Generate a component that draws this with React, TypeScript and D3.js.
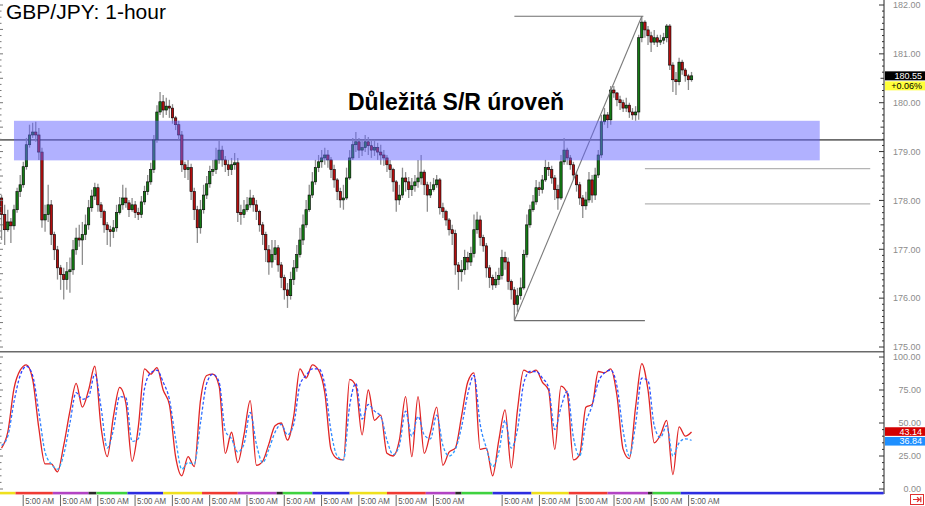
import React from "react";
import * as d3 from "d3";

const W = 925;
const H = 506;

// ---------- price data (2-hour candles, open = previous close) ----------
const firstOpen = 178.05;
const closes = [
  177.71,177.40,177.56,177.48,177.81,178.18,178.32,178.69,179.14,179.34,
  179.40,179.34,178.99,177.60,177.71,177.91,177.30,176.99,176.62,176.48,
  176.38,176.54,176.58,176.99,177.23,177.19,177.30,177.50,177.85,178.09,
  178.26,177.91,177.77,177.50,177.40,177.36,177.44,177.75,177.91,178.05,
  177.95,177.81,177.91,177.75,177.71,177.97,178.18,178.38,178.63,179.24,
  179.81,180.02,179.85,179.93,179.89,179.69,179.55,179.34,178.73,178.63,
  178.67,178.18,177.81,177.44,177.81,178.11,178.34,178.59,178.63,178.83,
  179.03,178.83,178.73,178.63,178.73,178.77,177.75,177.71,177.81,177.91,
  178.05,
  177.91,177.77,177.50,177.30,176.99,176.74,176.89,177.03,176.68,176.42,
  176.17,176.05,176.38,176.62,176.89,177.19,177.50,177.81,178.11,178.38,
  178.67,178.79,178.87,178.93,178.83,178.63,178.42,178.18,178.01,178.05,
  178.46,178.87,179.14,179.20,179.03,179.08,179.20,179.12,179.03,179.08,
  178.99,178.93,178.87,178.73,178.63,178.38,178.01,178.11,178.46,178.38,
  178.22,178.30,178.38,178.46,178.58,178.32,178.11,178.22,178.32,178.42,
  177.85,177.77,177.60,177.40,177.32,176.68,176.54,176.58,176.83,176.74,
  176.91,177.40,177.60,177.24,177.07,176.62,176.42,176.27,176.38,176.46,
  176.83,176.74,176.34,176.17,175.87,176.05,176.21,176.89,177.50,177.81,
  177.97,178.26,178.22,178.42,178.67,178.63,178.46,178.22,178.05,178.79,
  179.03,178.87,178.73,178.52,178.32,178.05,177.89,178.01,178.42,178.11,
  178.52,178.93,179.61,179.75,179.65,180.26,180.20,180.06,180.00,179.89,
  179.95,179.81,179.75,179.81,181.33,181.65,181.49,181.37,181.24,181.33,
  181.24,181.28,181.33,181.57,180.77,180.47,180.43,180.83,180.67,180.55,
  180.47,180.55,
];
const highs = [
  178.11,177.91,177.81,177.64,177.91,178.26,178.52,178.79,179.28,179.55,
  179.59,179.61,179.48,179.08,177.91,178.32,178.01,177.36,177.07,176.68,
  176.62,176.74,176.83,177.19,177.44,177.50,177.56,177.71,178.01,178.22,
  178.36,178.34,177.97,177.81,177.56,177.48,177.60,177.91,178.07,178.32,
  178.26,178.01,178.05,177.99,177.85,178.09,178.30,178.52,178.77,179.34,
  179.95,180.22,180.16,180.10,180.06,179.97,179.73,179.63,179.42,178.79,
  178.83,178.75,178.26,177.89,178.01,178.32,178.50,178.71,178.83,179.08,
  179.22,179.12,178.91,178.83,178.87,178.97,178.87,177.91,178.01,178.07,
  178.22,
  178.11,178.01,177.81,177.56,177.36,177.09,177.19,177.19,177.09,176.74,
  176.48,176.31,176.54,176.78,177.09,177.44,177.71,178.01,178.32,178.58,
  178.83,178.93,179.03,179.08,179.03,178.89,178.73,178.46,178.26,178.32,
  178.67,179.03,179.28,179.40,179.28,179.24,179.34,179.30,179.24,179.24,
  179.18,179.14,179.03,178.93,178.83,178.67,178.42,178.32,178.67,178.58,
  178.48,178.46,178.52,178.83,178.93,178.63,178.38,178.38,178.46,178.52,
  178.46,177.95,177.81,177.64,177.50,177.40,176.74,176.78,176.99,176.95,
  177.05,177.71,177.77,177.69,177.30,177.13,176.68,176.48,176.54,176.62,
  176.99,176.95,176.83,176.38,176.23,176.21,176.42,176.99,177.71,177.91,
  178.11,178.42,178.38,178.52,178.83,178.79,178.71,178.52,178.32,178.93,
  179.28,179.08,178.93,178.79,178.58,178.38,178.11,178.18,178.58,178.52,
  178.67,179.03,179.75,179.89,179.81,180.34,180.34,180.22,180.14,180.06,
  180.10,180.00,179.89,179.93,181.39,181.77,181.69,181.57,181.45,181.49,
  181.39,181.39,181.43,181.61,181.61,180.83,180.63,180.92,180.88,180.71,
  180.59,180.63,
];
const lows = [
  177.19,177.09,177.36,177.13,177.40,177.75,178.07,178.26,178.63,179.08,
  179.28,179.20,178.83,177.44,177.36,177.56,177.09,176.78,176.38,176.17,
  175.97,176.17,176.11,176.48,176.89,177.05,176.68,177.19,177.40,177.77,
  178.01,177.77,177.64,177.34,177.09,177.05,177.23,177.36,177.71,177.81,
  177.85,177.66,177.77,177.64,177.60,177.64,177.91,178.11,178.32,178.56,
  179.18,179.75,179.69,179.75,179.69,179.57,179.44,179.24,178.58,178.46,
  178.42,178.01,177.60,177.13,177.32,177.73,178.03,178.26,178.50,178.54,
  178.75,178.69,178.58,178.50,178.52,178.63,177.56,177.50,177.64,177.77,
  177.85,
  177.77,177.60,177.36,177.09,176.74,176.48,176.62,176.78,176.54,176.21,
  175.97,175.80,175.97,176.27,176.54,176.83,177.09,177.44,177.77,178.05,
  178.32,178.58,178.67,178.73,178.67,178.46,178.26,178.01,177.85,177.81,
  178.01,178.42,178.83,178.99,178.87,178.91,178.99,178.93,178.87,178.91,
  178.83,178.73,178.71,178.58,178.46,178.18,177.77,177.91,178.05,178.18,
  178.05,178.09,178.18,178.26,178.32,178.11,177.77,178.05,178.18,178.26,
  177.71,177.64,177.48,177.28,177.09,176.48,176.17,176.34,176.48,176.58,
  176.66,176.83,177.32,177.07,176.95,176.42,176.21,176.17,176.21,176.27,
  176.38,176.58,176.17,175.97,175.54,175.72,175.97,176.17,176.83,177.44,
  177.77,177.91,178.09,178.14,178.38,178.50,178.34,178.01,177.81,178.01,
  178.73,178.73,178.63,178.42,178.18,177.91,177.64,177.81,177.95,177.95,
  178.01,178.46,178.87,179.55,179.48,179.55,180.10,179.93,179.85,179.81,
  179.81,179.69,179.65,179.63,179.65,181.24,181.33,181.18,181.04,181.18,
  181.14,181.18,181.20,181.24,180.67,180.22,180.16,180.36,180.57,180.43,
  180.26,180.43,
];

// ---------- stochastic (sampled every 4 hours) ----------
const stochK = [
  31,43,76,90,94,83,46,19,19,13,
  33,59,80,62,75,93,47,24.5,55,77,
  65,21,47,91,87,92,75,64,24.5,10,
  24.5,17,67,86,87,78,27,43,20,41,
  67,18,21,34,48,50,37,55,91,84,
  94,90,73,30,23,22,83,78,41,75,
  52,56,27,25,37,70,24.5,70,27,43,
  62,18,28,31,55,81,88,30,31,10,
  37,60,16,60,90,88,90,81,75,30,
  78,72.5,22,26,62,64,89,88,91,71,
  30,23,62,95,75,35,41,52,11,47,
  40,43.14,
];
const stochD = [
  33,40,66,86,93,86,58,28,19,15,
  26,50,73,68,70,87,62,31,45,70,
  69,36,38,76,88,90,81,68,38,15,
  20,19,50,80,87,81,44,38,28,34,
  58,34,20,30,43,49,41,49,79,86,
  91,91,79,44,25,22,63,80,53,64,
  59,55,37,26,33,59,40,55,41,38,
  56,33,25,30,47,72,86,49,31,17,
  28,52,31,45,80,89,89,84,77,45,
  62,74,39,25,50,63,81,88,90,78,
  44,25,49,84,82,48,39,48,25,35,
  38,36.84,
];

// ---------- axes / annotations ----------
const priceTicks = [175, 176, 177, 178, 179, 180, 181, 182];
const stochTicks = [0, 25, 50, 75, 100];
const timeTickHours = [14.6, 38.6, 62.6, 86.6, 110.6, 134.6, 158.6, 182.6, 206.6, 230.6, 254.6, 278.6, 322.8, 346.8, 370.8, 394.8, 418.8, 442.8];
const timeTickLabel = "5:00 AM";
const dayBounds = [0, 10, 34, 57, 62, 82, 105, 130, 153, 178, 182, 201, 225, 249, 274, 293, 297, 317, 342, 366, 391, 417, 420, 438, 568.6];
const dayKinds = ["Y", "R", "P", "K", "G", "B", "Y", "R", "P", "K", "G", "B", "Y", "R", "P", "K", "G", "B", "Y", "R", "P", "K", "G", "B"];
const srLevel = 179.24;
const zoneTop = 179.63;
const zoneBottom = 178.82;
const zoneHours = [9, 527.5];
const swingLowHour = 331;
const swingLowPrice = 175.54;
const swingHighHour = 413;
const swingHighPrice = 181.77;
const fibLevels = [178.65, 177.93];
const fibHours = [415, 560];
const lastPrice = 180.55;
const lastChange = "+0.06%";
const title = "GBP/JPY: 1-hour";
const annotation = "Důležitá S/R úroveň";

const FONT = "'Liberation Sans', Arial, sans-serif";

export default function App() {
  const palette: Record<string, string> = {
    Y: "#efe01e", R: "#ef3b33", P: "#b244c4", K: "#2a2a2a", G: "#3fd23f", B: "#2d2de0",
  };
  const x = d3.scaleLinear().domain([0, 568.6]).range([0, 883.6]);
  const yP = d3.scaleLinear().domain([175, 182]).range([347, 5]);
  const yS = d3.scaleLinear().domain([0, 100]).range([489, 357]);
  const axisX = 884;

  const candles = closes.map((c, k) => ({
    hour: 2 * k + 1,
    o: k === 0 ? firstOpen : closes[k - 1],
    h: highs[k],
    l: lows[k],
    c,
  }));

  const mk = (arr: number[]) =>
    d3.line<number>().x((_, j) => x(4 * j + 1)).y((v) => yS(v)).curve(d3.curveMonotoneX)(arr) || "";
  const kLine = mk(stochK);
  const dLine = mk(stochD);

  const minorPrice = d3.range(175, 182.001, 0.125);
  const minorStoch = d3.range(0, 100.001, 5);
  const bw = 2.4;
  const kLast = stochK[stochK.length - 1];
  const dLast = stochD[stochD.length - 1];

  return (
    <svg width={W} height={H} style={{ position: "absolute", left: 0, top: 0, background: "#fff" }} fontFamily={FONT}>
      <rect x={0} y={0} width={W} height={H} fill="#fff" />

      {/* S/R line */}
      <line x1={0} x2={axisX} y1={yP(srLevel)} y2={yP(srLevel)} stroke="#6c6c6c" strokeWidth={1.6} />

      {/* candles */}
      <g>
        {candles.map((d, k) => (
          <line key={"w" + k} x1={x(d.hour)} x2={x(d.hour)} y1={yP(d.h)} y2={yP(d.l)} stroke="#8e8e8e" strokeWidth={1.3} />
        ))}
        {candles.map((d, k) => {
          const top = yP(Math.max(d.o, d.c));
          const bot = yP(Math.min(d.o, d.c));
          return (
            <rect key={"b" + k} x={x(d.hour) - bw / 2} y={top} width={bw} height={Math.max(0.8, bot - top)}
              fill={d.c >= d.o ? "#137a13" : "#b30e0e"} stroke="#000" strokeWidth={0.6} />
          );
        })}
      </g>

      {/* swing lines */}
      <line x1={x(swingLowHour)} x2={x(swingHighHour + 1)} y1={yP(swingHighPrice)} y2={yP(swingHighPrice)} stroke="#6e6e6e" strokeWidth={1.1} />
      <line x1={x(swingLowHour)} x2={x(swingHighHour + 2)} y1={yP(swingLowPrice)} y2={yP(swingLowPrice)} stroke="#6e6e6e" strokeWidth={1.1} />
      <line x1={x(swingLowHour)} x2={x(swingHighHour)} y1={yP(swingLowPrice)} y2={yP(swingHighPrice)} stroke="#7a7a7a" strokeWidth={1.1} />
      {fibLevels.map((f) => (
        <line key={f} x1={x(fibHours[0])} x2={x(fibHours[1])} y1={yP(f)} y2={yP(f)} stroke="#b4b4b4" strokeWidth={1.2} />
      ))}

      {/* zone */}
      <rect x={x(zoneHours[0])} y={yP(zoneTop)} width={x(zoneHours[1]) - x(zoneHours[0])} height={yP(zoneBottom) - yP(zoneTop)}
        fill="rgb(100,100,255)" fillOpacity={0.5} />

      {/* texts */}
      <text x={6} y={18.5} fontSize={21} fill="#000">{title}</text>
      <text x={348} y={110} fontSize={23} fontWeight="bold" fill="#000">{annotation}</text>

      {/* panel separator */}
      <line x1={0} x2={axisX} y1={351.8} y2={351.8} stroke="#6a6a6a" strokeWidth={1.5} />

      {/* stochastic */}
      <defs>
        <linearGradient id="dgrad" gradientUnits="userSpaceOnUse" x1={0} y1={357} x2={0} y2={489}>
          <stop offset="0%" stopColor="#2b2bff" />
          <stop offset="100%" stopColor="#2fc8ff" />
        </linearGradient>
      </defs>
      <path d={kLine} fill="none" stroke="#e02424" strokeWidth={1.3} />
      <path d={dLine} fill="none" stroke="url(#dgrad)" strokeWidth={1.3} strokeDasharray="3 2" />

      {/* right axis */}
      <line x1={axisX} x2={axisX} y1={0} y2={494} stroke="#222" strokeWidth={1} />
      {minorPrice.map((p, i) => {
        const len = i % 8 === 0 ? 5 : i % 4 === 0 ? 3.5 : 2;
        return <line key={"pt" + i} x1={axisX - len} x2={axisX} y1={yP(p)} y2={yP(p)} stroke="#333" strokeWidth={1} />;
      })}
      {minorPrice.map((p, i) => {
        const len = i % 4 === 0 ? 3 : 1.5;
        return <line key={"lt" + i} x1={0} x2={len} y1={yP(p)} y2={yP(p)} stroke="#777" strokeWidth={1} />;
      })}
      {minorStoch.map((v, i) => {
        const len = i % 5 === 0 ? 5 : 2;
        return <line key={"st" + i} x1={axisX - len} x2={axisX} y1={yS(v)} y2={yS(v)} stroke="#333" strokeWidth={1} />;
      })}
      {minorStoch.map((v, i) => {
        const len = i % 5 === 0 ? 3 : 1.5;
        return <line key={"sl" + i} x1={0} x2={len} y1={yS(v)} y2={yS(v)} stroke="#777" strokeWidth={1} />;
      })}
      {priceTicks.map((p) => (
        <text key={"pl" + p} x={893} y={yP(p) + 3.3} fontSize={9} fill="#8c8c8c">{p.toFixed(2)}</text>
      ))}
      {stochTicks.map((v) => (
        <text key={"sl" + v} x={v === 100 ? 893 : 921} textAnchor={v === 100 ? "start" : "end"} y={yS(v) + (v === 50 ? 2.6 : 3.3)} fontSize={9} fill="#8c8c8c">{v.toFixed(2)}</text>
      ))}

      {/* last price tags */}
      <rect x={885} y={yP(lastPrice) - 4.5} width={40} height={9} fill="#000" />
      <text x={922} y={yP(lastPrice) + 3.3} textAnchor="end" fontSize={9} fill="#fff">{lastPrice.toFixed(2)}</text>
      <rect x={885} y={yP(lastPrice) + 5.5} width={40} height={9} fill="#ffff3a" />
      <text x={922} y={yP(lastPrice) + 13.3} textAnchor="end" fontSize={9} fill="#000">{lastChange}</text>

      <rect x={885} y={yS(kLast) - 4.8} width={40} height={8.6} fill="#d40000" />
      <text x={922} y={yS(kLast) + 2.6} textAnchor="end" fontSize={9} fill="#fff">{kLast.toFixed(2)}</text>
      <rect x={885} y={yS(dLast) - 3.4} width={40} height={8.6} fill="#1e8fff" />
      <text x={922} y={yS(dLast) + 4} textAnchor="end" fontSize={9} fill="#fff">{dLast.toFixed(2)}</text>

      {/* day colour strip */}
      {dayKinds.map((kd, i) => (
        <rect key={"d" + i} x={x(dayBounds[i])} y={491.8} width={x(dayBounds[i + 1]) - x(dayBounds[i])} height={2.6} fill={palette[kd]} />
      ))}

      {/* time labels */}
      {timeTickHours.map((h, i) => (
        <g key={"tt" + i}>
          <line x1={x(h) + 0.5} x2={x(h) + 0.5} y1={495} y2={506} stroke="#666" strokeWidth={1} />
          <text x={x(h) + 2.5} y={504} fontSize={9} fill="#555" textLength={29} lengthAdjust="spacingAndGlyphs">{timeTickLabel}</text>
        </g>
      ))}

      {/* scroll icon */}
      <rect x={910.5} y={494.5} width={13} height={10} fill="#fff" stroke="#e03030" strokeWidth={1} />
      <path d="M913 499.5 H919.5 M917 497.3 L919.6 499.5 L917 501.7 M920.8 496.8 V502.2" stroke="#e03030" strokeWidth={1.2} fill="none" />
    </svg>
  );
}
